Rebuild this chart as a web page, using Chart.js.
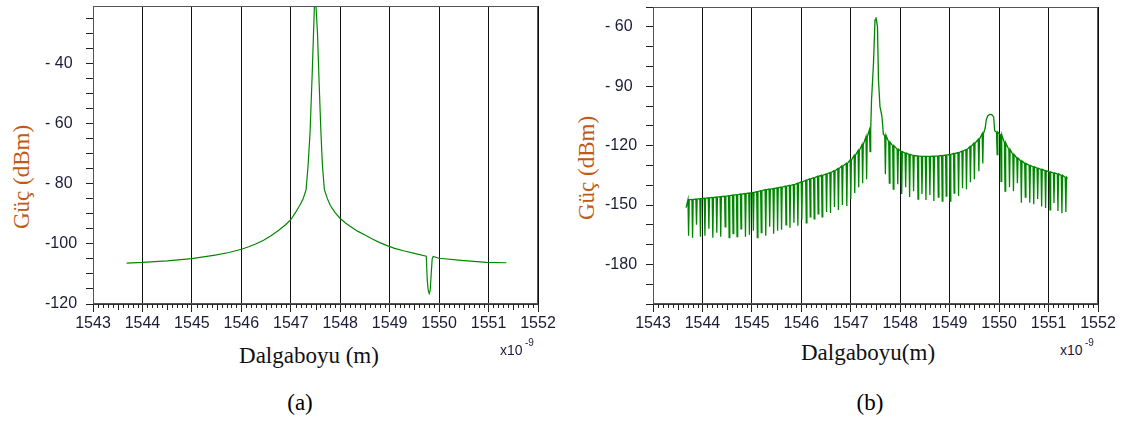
<!DOCTYPE html>
<html>
<head>
<meta charset="utf-8">
<script src="https://cdn.jsdelivr.net/npm/chart.js@4.4.1/dist/chart.umd.min.js"></script>
<style>
  html, body { margin: 0; padding: 0; background: #fff; }
  body { width: 1122px; height: 426px; position: relative; overflow: hidden; }
  .wrap { position: absolute; top: 0; }
  .ytitle { position: absolute; width: 200px; height: 30px; line-height: 30px; text-align: center;
            font-family: "Liberation Serif", "Times New Roman", serif; font-size: 23px; color: #c05a14;
            transform: rotate(-90deg); white-space: nowrap; }
  .xtitle { position: absolute; width: 240px; text-align: center; line-height: 23px;
            font-family: "Liberation Serif", "Times New Roman", serif; font-size: 23px; color: #111; white-space: nowrap; }
  .cap { position: absolute; width: 60px; text-align: center; line-height: 23px;
         font-family: "Liberation Serif", "Times New Roman", serif; font-size: 23px; color: #000; }
  .mul { position: absolute; font-family: "Liberation Sans", Arial, sans-serif; font-size: 14px; line-height: 14px; color: #1b1b3a; }
  .sup { position: absolute; font-family: "Liberation Sans", Arial, sans-serif; font-size: 10px; line-height: 10px; color: #1b1b3a; }
</style>
</head>
<body>
<div class="wrap" style="left:45px"><canvas id="chartA" width="520" height="340" style="width:520px;height:340px"></canvas></div>
<div class="wrap" style="left:605px"><canvas id="chartB" width="517" height="340" style="width:517px;height:340px"></canvas></div>

<div class="ytitle" style="left:-78px; top:162px;">Güç (dBm)</div>
<div class="ytitle" style="left:487px; top:153px;">Güç (dBm)</div>
<div class="xtitle" style="left:189px; top:344px;">Dalgaboyu (m)</div>
<div class="xtitle" style="left:748px; top:341px;">Dalgaboyu(m)</div>
<div class="mul" style="left:500px; top:343px;">x10</div><div class="sup" style="left:525px; top:338px;">-9</div>
<div class="mul" style="left:1060px; top:343px;">x10</div><div class="sup" style="left:1085px; top:338px;">-9</div>
<div class="cap" style="left:270px; top:391px;">(a)</div>
<div class="cap" style="left:840px; top:391px;">(b)</div>

<script>
// ---------------- Data: chart (a) ----------------
const xTickMin = 1543;
const xTickMax = 1552;

const specA_wavelength = [1543.68, 1544.0, 1544.5, 1545.0, 1545.5, 1545.75, 1546.0, 1546.15, 1546.3, 1546.45, 1546.6, 1546.75, 1546.9, 1547.0, 1547.1, 1547.18, 1547.25, 1547.31, 1547.35, 1547.39, 1547.43, 1547.46, 1547.49, 1547.51, 1547.54, 1547.57, 1547.61, 1547.64, 1547.68, 1547.74, 1547.8, 1547.9, 1548.0, 1548.1, 1548.2, 1548.35, 1548.5, 1548.65, 1548.8, 1548.95, 1549.1, 1549.3, 1549.5, 1549.74, 1549.76, 1549.78, 1549.80, 1549.82, 1549.84, 1549.86, 1549.88, 1550.0, 1550.5, 1550.96, 1551.36];
const specA_power = [-106.4, -106.2, -105.7, -104.9, -103.7, -102.9, -101.8, -101.0, -100.0, -98.8, -97.3, -95.6, -93.6, -92.0, -89.5, -87.3, -85.0, -82, -74, -63, -45, -30, -15, -15, -30, -45, -63, -74, -82, -85.0, -87.3, -89.7, -91.6, -93.0, -94.2, -95.8, -97.1, -98.4, -99.6, -100.6, -101.5, -102.4, -103.2, -104.1, -112, -115.5, -116.5, -115.5, -110, -105, -104.2, -104.8, -105.6, -106.2, -106.3];

// ---------------- Data: chart (b) ----------------
// comb teeth: wavelength of each notch, level before/after the notch, bottom of the notch
const specB_toothWavelength = [
  1543.72, 1543.80, 1543.88, 1543.96, 1544.05, 1544.13, 1544.21, 1544.29, 1544.37, 1544.46,
  1544.54, 1544.62, 1544.70, 1544.78, 1544.87, 1544.95, 1545.03, 1545.11, 1545.19, 1545.28,
  1545.36, 1545.44, 1545.52, 1545.60, 1545.69, 1545.77, 1545.85, 1545.93, 1546.01, 1546.10,
  1546.18, 1546.26, 1546.34, 1546.42, 1546.51, 1546.59, 1546.67, 1546.75, 1546.83, 1546.92,
  1547.00, 1547.08, 1547.16, 1547.24, 1547.32, 1547.39,
  1547.70, 1547.78, 1547.86, 1547.95, 1548.03, 1548.11, 1548.19, 1548.27, 1548.36, 1548.44,
  1548.52, 1548.60, 1548.68, 1548.77, 1548.85, 1548.93, 1549.01, 1549.09, 1549.18, 1549.26,
  1549.34, 1549.42, 1549.50, 1549.59, 1549.67,
  1549.96, 1550.04, 1550.12, 1550.21, 1550.29, 1550.37, 1550.45, 1550.53, 1550.62, 1550.70,
  1550.78, 1550.86, 1550.94, 1551.03, 1551.11, 1551.19, 1551.27, 1551.35];
const specB_toothTop = [
  -147.3, -147.2, -147.0, -146.8, -146.6, -146.4, -146.2, -146.0, -145.8, -145.6,
  -145.3, -145.0, -144.8, -144.5, -144.2, -144.0, -143.7, -143.3, -142.8, -142.3,
  -142.0, -141.7, -141.3, -141.0, -140.5, -140.1, -139.7, -139.0, -138.3, -137.5,
  -136.8, -136.2, -135.5, -135.0, -134.3, -133.6, -132.7, -131.6, -130.3, -129.0,
  -127.2, -125.0, -122.5, -119.5, -115.5, -112.0,
  -114.8, -118.2, -120.0, -121.8, -123.0, -123.8, -124.5, -125.0, -125.2, -125.4,
  -125.4, -125.4, -125.3, -125.2, -125.0, -124.8, -124.5, -124.0, -123.5, -122.8,
  -122.0, -120.5, -118.8, -116.8, -114.0,
  -113.2, -114.5, -118.5, -122.0, -124.5, -126.3, -127.8, -129.0, -130.0, -130.7,
  -131.4, -132.0, -132.7, -133.3, -133.8, -134.3, -135.0, -136.0];
const specB_toothBottom = [
  -165.5, -166.5, -160.0, -166.0, -165.5, -162.0, -166.5, -164.0, -166.0, -161.0,
  -166.5, -164.5, -166.0, -162.0, -166.0, -165.0, -163.0, -166.5, -164.0, -165.5,
  -161.0, -164.5, -163.0, -162.5, -160.0, -161.5, -159.0, -160.5, -157.5, -159.0,
  -156.0, -157.0, -154.5, -156.0, -153.5, -154.0, -151.0, -152.5, -150.0, -150.5,
  -147.0, -144.0, -141.0, -139.0, -137.0, -123.0,
  -134.5, -139.0, -142.0, -139.5, -144.5, -141.0, -146.0, -143.0, -147.0, -144.5,
  -147.5, -145.0, -148.0, -146.0, -148.0, -145.5, -148.0, -144.0, -145.5, -141.5,
  -142.0, -138.5, -137.0, -133.0, -129.0,
  -124.5, -138.0, -143.0, -141.0, -143.0, -139.0, -148.8, -146.0, -148.8, -149.6,
  -147.0, -150.8, -151.5, -152.5, -149.0, -153.0, -154.2, -153.5];
// smooth parts: trace start, main peak, side peak, trace end
const specB_smoothWavelength = [1543.67,
  1547.42, 1547.46, 1547.49, 1547.51, 1547.54, 1547.56, 1547.59, 1547.63, 1547.66,
  1549.72, 1549.74, 1549.77, 1549.81, 1549.85, 1549.89, 1549.91,
  1551.37];
const specB_smoothPower = [-151.3,
  -97.0, -78.0, -56.5, -55.2, -60.0, -86.7, -100.2, -105.2, -114.4,
  -111.0, -107.0, -105.0, -104.2, -104.3, -105.5, -112.5,
  -136.2];

// ---------------- Build datasets ----------------
const NOTCH_HALF_WIDTH = 0.013; // drawing width of a comb notch (nm)

const pointsA = specA_wavelength.map((w, i) => ({ x: w, y: specA_power[i] }));

const pointsB = [];
specB_toothWavelength.forEach((w, i) => {
  pointsB.push({ x: w - NOTCH_HALF_WIDTH, y: specB_toothTop[i] });
  pointsB.push({ x: w, y: specB_toothBottom[i] });
  pointsB.push({ x: w + NOTCH_HALF_WIDTH, y: specB_toothTop[i] });
});
specB_smoothWavelength.forEach((w, i) => pointsB.push({ x: w, y: specB_smoothPower[i] }));
pointsB.sort((a, b) => a.x - b.x);

// ---------------- Chart helpers ----------------
const TICK_FONT = { family: '"Liberation Sans", Arial, sans-serif', size: 16 };
const TICK_COLOR = '#1b1b3a';

const framePlugin = {
  id: 'frameMinor',
  afterDraw(chart) {
    const { ctx, chartArea, scales } = chart;
    const { left, right, top, bottom } = chartArea;
    const x = scales.x;
    ctx.save();
    ctx.strokeStyle = '#555';
    ctx.lineWidth = 1;
    ctx.strokeRect(Math.round(left) + 0.5, Math.round(top) + 0.5, Math.round(right - left) - 1, Math.round(bottom - top) - 1);
    ctx.strokeStyle = '#222';
    const n = Math.round((x.max - x.min) * 10);
    for (let i = 1; i < n; i++) {
      if (i % 10 === 0) continue;
      const v = x.min + i / 10;
      const px = Math.round(x.getPixelForValue(v)) + 0.5;
      const len = (i % 5 === 0) ? 6 : 4;
      ctx.beginPath();
      ctx.moveTo(px, Math.round(bottom));
      ctx.lineTo(px, Math.round(bottom) + len);
      ctx.stroke();
    }
    ctx.restore();
  }
};

function yLabel(v, every) {
  if (Math.round(v) % every !== 0) return '';
  const a = Math.abs(Math.round(v));
  return a < 100 ? '- ' + a : '-' + a;
}

function makeChart(id, points, yMin, yMax, yStep, labelEvery, padTop, padRight, lineWidth) {
  return new Chart(document.getElementById(id), {
    type: 'line',
    data: { datasets: [{ data: points, borderColor: 'rgb(0,135,0)', borderWidth: lineWidth, pointRadius: 0, tension: 0, fill: false }] },
    options: {
      responsive: false,
      animation: false,
      parsing: false,
      plugins: { legend: { display: false }, tooltip: { enabled: false } },
      layout: { padding: { top: padTop, right: padRight, left: 0, bottom: 0 } },
      scales: {
        x: {
          type: 'linear', min: xTickMin, max: xTickMax,
          afterFit(s) { s.height = 36; s.paddingLeft = 0; s.paddingRight = 0; },
          ticks: { stepSize: 1, autoSkip: false, maxRotation: 0, minRotation: 0, padding: 2,
                   font: TICK_FONT, color: TICK_COLOR, callback: v => String(v) },
          grid: { color: '#111', lineWidth: 1, drawTicks: true, tickLength: 8, tickColor: '#222' },
          border: { display: true, color: '#333' }
        },
        y: {
          type: 'linear', min: yMin, max: yMax,
          afterFit(s) { s.width = 48; s.paddingTop = 0; s.paddingBottom = 0; },
          ticks: { stepSize: yStep, includeBounds: false, autoSkip: false, crossAlign: 'far',
                   font: TICK_FONT, color: TICK_COLOR, callback: v => yLabel(v, labelEvery) },
          grid: { drawOnChartArea: false, drawTicks: true, tickLength: 7, tickColor: '#222', color: '#222' },
          border: { display: true, color: '#333' }
        }
      }
    },
    plugins: [framePlugin]
  });
}

makeChart('chartA', pointsA, -120, -21, 5, 20, 6, 27, 1.2);
makeChart('chartB', pointsB, -200, -50, 10, 30, 7, 24, 1.3);
</script>
</body>
</html>
